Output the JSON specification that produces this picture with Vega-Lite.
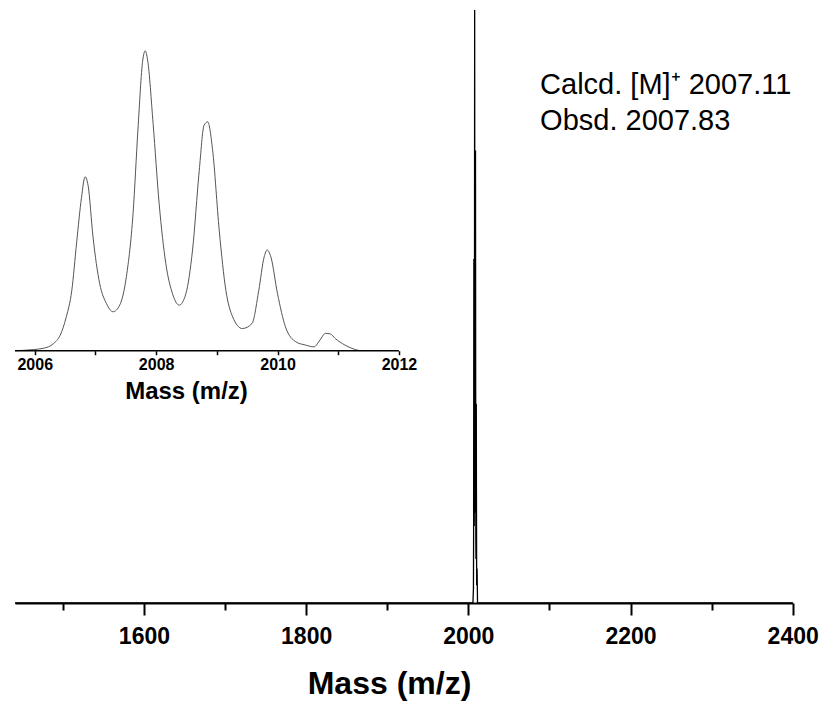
{
  "$schema": "https://vega.github.io/schema/vega-lite/v6.json",
  "width": 777.7,
  "height": 593,
  "autosize": {"type": "none"},
  "padding": {"left": 15, "top": 10, "right": 38.3, "bottom": 106},
  "background": "white",
  "config": {"view": {"stroke": null}},
  "datasets": {
    "inset": [
      {"mz": 2005.68, "intensity": 0},
      {"mz": 2005.98, "intensity": 0.4},
      {"mz": 2006.14, "intensity": 0.8},
      {"mz": 2006.31, "intensity": 2.4},
      {"mz": 2006.42, "intensity": 5.2},
      {"mz": 2006.52, "intensity": 11.3},
      {"mz": 2006.61, "intensity": 20},
      {"mz": 2006.69, "intensity": 36},
      {"mz": 2006.77, "intensity": 51},
      {"mz": 2006.83, "intensity": 58},
      {"mz": 2006.88, "intensity": 55},
      {"mz": 2006.96, "intensity": 38},
      {"mz": 2007.07, "intensity": 22.4},
      {"mz": 2007.18, "intensity": 15.8},
      {"mz": 2007.29, "intensity": 13},
      {"mz": 2007.4, "intensity": 15.2},
      {"mz": 2007.51, "intensity": 24.7},
      {"mz": 2007.62, "intensity": 45.8},
      {"mz": 2007.7, "intensity": 73.6},
      {"mz": 2007.78, "intensity": 96.9},
      {"mz": 2007.82, "intensity": 100},
      {"mz": 2007.86, "intensity": 96.9},
      {"mz": 2007.95, "intensity": 75.8},
      {"mz": 2008.05, "intensity": 49},
      {"mz": 2008.16, "intensity": 29},
      {"mz": 2008.27, "intensity": 19},
      {"mz": 2008.38, "intensity": 15.2},
      {"mz": 2008.49, "intensity": 19},
      {"mz": 2008.6, "intensity": 33.6},
      {"mz": 2008.71, "intensity": 60},
      {"mz": 2008.79, "intensity": 75.2},
      {"mz": 2008.85, "intensity": 76.3},
      {"mz": 2008.93, "intensity": 67},
      {"mz": 2009.04, "intensity": 40},
      {"mz": 2009.15, "intensity": 20},
      {"mz": 2009.26, "intensity": 11.3},
      {"mz": 2009.42, "intensity": 7.4},
      {"mz": 2009.58, "intensity": 9.1},
      {"mz": 2009.69, "intensity": 20},
      {"mz": 2009.78, "intensity": 31.3},
      {"mz": 2009.83, "intensity": 33.6},
      {"mz": 2009.89, "intensity": 31.3},
      {"mz": 2010.0, "intensity": 19},
      {"mz": 2010.13, "intensity": 8},
      {"mz": 2010.3, "intensity": 3},
      {"mz": 2010.46, "intensity": 1.9},
      {"mz": 2010.6, "intensity": 1.3},
      {"mz": 2010.7, "intensity": 3.6},
      {"mz": 2010.79, "intensity": 5.8},
      {"mz": 2010.87, "intensity": 5.6},
      {"mz": 2010.95, "intensity": 4.1},
      {"mz": 2011.11, "intensity": 1.9},
      {"mz": 2011.28, "intensity": 0.4},
      {"mz": 2011.36, "intensity": 0}
    ],
    "main": [
      {"mz": 1441, "intensity": 0},
      {"mz": 2005.68, "intensity": 0},
      {"mz": 2006.31, "intensity": 2.4},
      {"mz": 2006.52, "intensity": 11.3},
      {"mz": 2006.69, "intensity": 36},
      {"mz": 2006.83, "intensity": 58},
      {"mz": 2006.96, "intensity": 38},
      {"mz": 2007.18, "intensity": 15.8},
      {"mz": 2007.29, "intensity": 13},
      {"mz": 2007.51, "intensity": 24.7},
      {"mz": 2007.7, "intensity": 73.6},
      {"mz": 2007.82, "intensity": 100},
      {"mz": 2007.95, "intensity": 75.8},
      {"mz": 2008.16, "intensity": 29},
      {"mz": 2008.38, "intensity": 15.2},
      {"mz": 2008.6, "intensity": 33.6},
      {"mz": 2008.85, "intensity": 76.3},
      {"mz": 2009.04, "intensity": 40},
      {"mz": 2009.26, "intensity": 11.3},
      {"mz": 2009.42, "intensity": 7.4},
      {"mz": 2009.69, "intensity": 20},
      {"mz": 2009.83, "intensity": 33.6},
      {"mz": 2010.0, "intensity": 19},
      {"mz": 2010.3, "intensity": 3},
      {"mz": 2010.79, "intensity": 5.8},
      {"mz": 2011.36, "intensity": 0},
      {"mz": 2400, "intensity": 0}
    ]
  },
  "layer": [
    {
      "encoding": {
        "x": {"type": "quantitative", "scale": {"domain": [1441, 2400], "nice": false, "zero": false}},
        "y": {"type": "quantitative", "scale": {"domain": [0, 100], "nice": false}}
      },
      "layer": [
        {
          "data": {"name": "main"},
          "mark": {"type": "line", "color": "black", "strokeWidth": 1.3},
          "encoding": {
            "x": {
              "field": "mz",
              "type": "quantitative",
              "axis": {
                "orient": "bottom",
                "values": [1600, 1800, 2000, 2200, 2400],
                "format": "d",
                "grid": false,
                "domainColor": "black",
                "domainWidth": 2,
                "tickColor": "black",
                "tickWidth": 2,
                "tickSize": 12,
                "labelColor": "black",
                "labelFont": "Liberation Sans, Arial, sans-serif",
                "labelFontWeight": "bold",
                "labelFontSize": 23,
                "labelPadding": 10,
                "labelFlush": false,
                "labelBound": false,
                "labelOverlap": false,
                "title": "Mass (m/z)",
                "titleColor": "black",
                "titleFont": "Liberation Sans, Arial, sans-serif",
                "titleFontWeight": "bold",
                "titleFontSize": 32,
                "titleX": 374,
                "titleY": 90,
                "titleAlign": "center",
                "titleBaseline": "alphabetic"
              }
            },
            "y": {"field": "intensity", "type": "quantitative", "axis": null}
          }
        },
        {
          "data": {"values": [{}]},
          "mark": {"type": "text", "align": "left", "baseline": "alphabetic", "font": "Liberation Sans, Arial, sans-serif", "fontSize": 29, "color": "black"},
          "encoding": {
            "x": {"datum": 2088.5},
            "y": {"datum": 85.8},
            "text": {"value": "Calcd. [M]⁺ 2007.11"}
          }
        },
        {
          "data": {"values": [{}]},
          "mark": {"type": "text", "align": "left", "baseline": "alphabetic", "font": "Liberation Sans, Arial, sans-serif", "fontSize": 29, "color": "black"},
          "encoding": {
            "x": {"datum": 2088.5},
            "y": {"datum": 79.8},
            "text": {"value": "Obsd. 2007.83"}
          }
        }
      ]
    },
    {
      "data": {"name": "main"},
      "mark": {"type": "line", "opacity": 0},
      "encoding": {
        "x": {
          "field": "mz",
          "type": "quantitative",
          "scale": {"domain": [1441, 2400], "nice": false, "zero": false},
          "axis": {
            "orient": "bottom",
            "values": [1500, 1700, 1900, 2100, 2300],
            "grid": false,
            "domain": false,
            "labels": false,
            "tickColor": "black",
            "tickWidth": 2,
            "tickSize": 7,
            "title": null
          }
        },
        "y": {"field": "intensity", "type": "quantitative", "scale": {"domain": [0, 100], "nice": false}, "axis": null}
      }
    },
    {
      "encoding": {
        "x": {"type": "quantitative", "scale": {"domain": [2005.675, 2018.487], "nice": false, "zero": false}},
        "y": {"type": "quantitative", "scale": {"domain": [-84.1, 113.6], "nice": false, "zero": false}}
      },
      "layer": [
        {
          "data": {"name": "inset"},
          "mark": {"type": "line", "color": "#555555", "strokeWidth": 1, "interpolate": "monotone"},
          "encoding": {
            "x": {
              "field": "mz",
              "type": "quantitative",
              "axis": {
                "orient": "bottom",
                "offset": -252.3,
                "values": [2006, 2007, 2008, 2009, 2010, 2011, 2012],
                "format": "d",
                "labelExpr": "datum.value % 2 == 0 ? datum.label : ''",
                "grid": false,
                "domain": false,
                "tickColor": "black",
                "tickWidth": 1.5,
                "tickSize": 4,
                "labelColor": "black",
                "labelFont": "Liberation Sans, Arial, sans-serif",
                "labelFontWeight": "bold",
                "labelFontSize": 16,
                "labelPadding": 2,
                "labelFlush": false,
                "labelBound": false,
                "labelOverlap": false,
                "title": "Mass (m/z)",
                "titleColor": "black",
                "titleFont": "Liberation Sans, Arial, sans-serif",
                "titleFontWeight": "bold",
                "titleFontSize": 24,
                "titleX": 171,
                "titleY": 48,
                "titleAlign": "center",
                "titleBaseline": "alphabetic"
              }
            },
            "y": {"field": "intensity", "type": "quantitative", "axis": null}
          }
        },
        {
          "data": {"values": [{}]},
          "mark": {"type": "rule", "color": "black", "strokeWidth": 1.5},
          "encoding": {
            "x": {"datum": 2005.675},
            "x2": {"datum": 2012},
            "y": {"datum": 0}
          }
        }
      ]
    }
  ],
  "resolve": {
    "scale": {"x": "independent", "y": "independent"},
    "axis": {"x": "independent", "y": "independent"}
  }
}
